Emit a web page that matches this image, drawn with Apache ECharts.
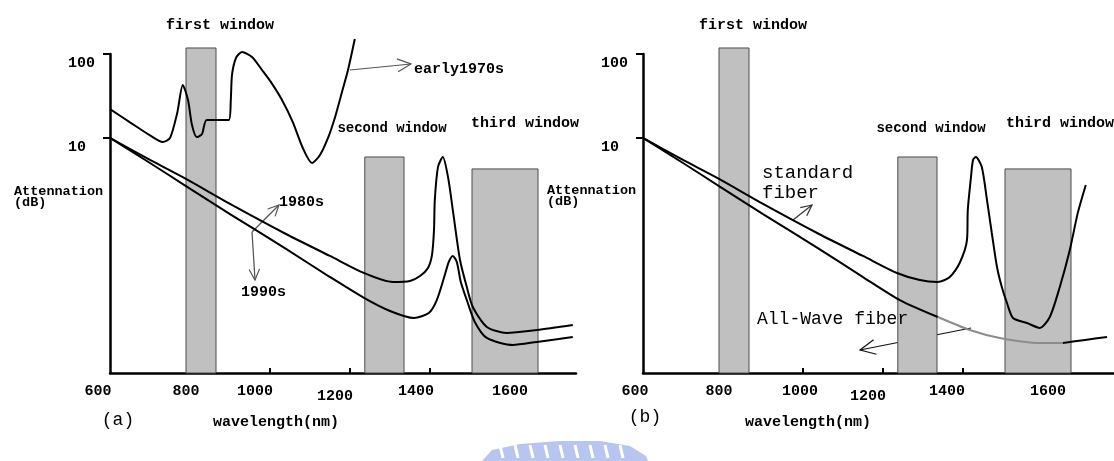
<!DOCTYPE html>
<html>
<head>
<meta charset="utf-8">
<title>fiber loss windows</title>
<script src="https://cdn.jsdelivr.net/npm/echarts@6/dist/echarts.min.js"></script>
<style>
html, body { margin: 0; padding: 0; background: #fff; }
#main { width: 1114px; height: 461px; }
</style>
</head>
<body>
<div id="main"></div>
<script>
// ---- data (wavelength nm / attenuation dB) ----
var xTicks = [600, 800, 1000, 1200, 1400, 1600];
var yTicks = [10, 100];

// transmission windows (same in both panels)
var winStart = [790, 1237, 1505];
var winEnd   = [865, 1335, 1670];
var winTop   = [118, 5.84, 4.2];

// panel (a)
var early70Nm = [600, 650, 700, 732, 750, 768, 782, 795, 805, 817, 830, 842, 897, 902, 905, 915, 930, 955, 980, 1002, 1030, 1057, 1082, 1105, 1125, 1145, 1162, 1180, 1195, 1212];
var early70Db = [21.9, 15.2, 10.6, 8.83, 9.86, 19.6, 42.6, 28.1, 14.1, 10.1, 11.0, 16.2, 16.2, 28.1, 56.1, 89.6, 105.6, 92.1, 64.3, 46.3, 28.1, 15.3, 7.48, 4.95, 6.17, 9.86, 17.1, 35.1, 64.3, 151];

var s80Nm = [600, 700, 790, 900, 1040, 1150, 1235, 1307, 1350, 1375, 1395, 1405, 1410, 1412, 1420, 1432, 1445, 1457, 1475, 1492, 1507, 1542, 1592, 1667, 1757];
var s80Db = [9.86, 5.38, 3.19, 1.60, 0.698, 0.381, 0.238, 0.186, 0.191, 0.219, 0.274, 0.392, 0.780, 1.78, 4.44, 5.84, 3.37, 1.36, 0.341, 0.162, 0.0933, 0.0538, 0.0456, 0.0495, 0.0568];

var s90Nm = [600, 700, 790, 900, 1040, 1150, 1235, 1300, 1360, 1397, 1417, 1437, 1447, 1457, 1467, 1477, 1492, 1512, 1542, 1607, 1667, 1757];
var s90Db = [9.86, 4.95, 2.62, 1.21, 0.463, 0.213, 0.120, 0.0836, 0.0689, 0.0791, 0.113, 0.225, 0.323, 0.381, 0.323, 0.186, 0.113, 0.0617, 0.0397, 0.0327, 0.0356, 0.0408];

// panel (b)
var stdNm = [600, 700, 790, 900, 1040, 1150, 1235, 1292, 1337, 1367, 1392, 1410, 1412, 1420, 1425, 1432, 1447, 1460, 1472, 1485, 1497, 1510, 1525, 1560, 1592, 1617, 1642, 1667, 1687, 1707];
var stdDb = [9.86, 5.38, 3.19, 1.60, 0.698, 0.381, 0.238, 0.196, 0.186, 0.213, 0.316, 0.592, 1.36, 3.37, 5.38, 5.84, 4.44, 1.78, 0.718, 0.281, 0.162, 0.104, 0.0689, 0.0600, 0.0523, 0.0708, 0.162, 0.450, 1.25, 2.70];

var allWaveNm = [600, 700, 790, 900, 1040, 1150, 1242, 1337, 1417, 1492, 1592, 1650, 1705, 1760];
var allWaveDb = [9.86, 4.95, 2.62, 1.21, 0.463, 0.213, 0.113, 0.0708, 0.0495, 0.0397, 0.0346, 0.0346, 0.0376, 0.0408];

var yMin = 0.0151, yMax = 100;

function pairs(xs, ys) {
    var out = [];
    for (var i = 0; i < xs.length; i++) out.push([xs[i], ys[i]]);
    return out;
}

var FONT = '"Liberation Mono", "DejaVu Sans Mono", monospace';

// hand-placed tick labels in the original: [shift x, drop y]
function tickRich(shift, drop) {
    var rich = {};
    xTicks.forEach(function (v) {
        var s = shift[v] || 0, d = drop[v] || 0;
        rich['v' + v] = {
            fontFamily: FONT, fontWeight: 'bold', fontSize: 15, color: '#000',
            padding: [d, s < 0 ? -2 * s : 0, 0, s > 0 ? 2 * s : 0]
        };
    });
    return rich;
}

function makeX(idx, max, shift) {
    return {
        gridIndex: idx, type: 'value', min: 600, max: max,
        axisLine: { onZero: false, lineStyle: { color: '#000', width: 2.5 } },
        axisTick: { show: true, inside: true, length: 5, customValues: xTicks.slice(1), lineStyle: { color: '#000', width: 2 } },
        axisLabel: {
            customValues: xTicks, margin: 11,
            formatter: function (v) { return '{v' + v + '|' + v + '}'; },
            rich: tickRich(shift, { 1200: 5 })
        },
        splitLine: { show: false }
    };
}

function makeY(idx) {
    return {
        gridIndex: idx, type: 'log', logBase: 10, min: yMin, max: yMax,
        axisLine: { show: true, lineStyle: { color: '#000', width: 2.5 } },
        axisTick: { show: true, length: 7, customValues: yTicks, lineStyle: { color: '#000', width: 2 } },
        axisLabel: {
            customValues: yTicks, align: 'left', margin: 42, verticalAlign: 'top', padding: [2, 0, 0, 0],
            fontFamily: FONT, fontWeight: 'bold', fontSize: 15, color: '#000'
        },
        splitLine: { show: false }
    };
}

function windowSeries(idx) {
    var data = [];
    for (var i = 0; i < winStart.length; i++) data.push([winStart[i], winEnd[i], winTop[i]]);
    return {
        type: 'custom', xAxisIndex: idx, yAxisIndex: idx, z: 1, clip: false,
        encode: { x: [0, 1], y: 2 },
        data: data,
        renderItem: function (params, api) {
            var p0 = api.coord([api.value(0), api.value(2)]);
            var p1 = api.coord([api.value(1), yMin]);
            return {
                type: 'rect',
                shape: { x: p0[0], y: p0[1], width: p1[0] - p0[0], height: p1[1] - p0[1] },
                style: { fill: '#c0c0c0', stroke: '#4a4a4a', lineWidth: 1 }
            };
        }
    };
}

function curve(idx, data, color) {
    return {
        type: 'line', xAxisIndex: idx, yAxisIndex: idx, z: 3, clip: false,
        data: data, showSymbol: false, smooth: 0.25, silent: true,
        lineStyle: { color: color || '#000', width: 2 }
    };
}

function arrow(x1, y1, x2, y2, len, color) {
    var a = Math.atan2(y2 - y1, x2 - x1), h = 0.45;
    var st = { stroke: color, lineWidth: 1.2, fill: null };
    return [
        { type: 'line', shape: { x1: x1, y1: y1, x2: x2, y2: y2 }, style: st },
        { type: 'polyline', shape: { points: [
            [x2 - len * Math.cos(a - h), y2 - len * Math.sin(a - h)], [x2, y2],
            [x2 - len * Math.cos(a + h), y2 - len * Math.sin(a + h)]] }, style: st }
    ];
}

function txt(s, x, y, size, bold, align, lh) {
    var f = (bold ? 'bold ' : '') + size + 'px ' + FONT;
    return {
        type: 'text', x: x, y: y, z: 10,
        style: { text: s, font: f, fill: '#000', align: align || 'left', textAlign: align || 'left',
                 verticalAlign: 'middle', textVerticalAlign: 'middle', lineHeight: lh || size }
    };
}

var graphics = [
    txt('first window', 220, 25, 15, true, 'center'),
    txt('second window', 392, 128, 14, true, 'center'),
    txt('third window', 525, 123, 15, true, 'center'),
    txt('early1970s', 414, 69, 15, true),
    txt('1980s', 279, 202, 15, true),
    txt('1990s', 241, 292, 15, true),
    txt('Attennation\n(dB)', 14, 197, 13.5, true, 'left', 11),
    txt('(a)', 118, 420, 18, false, 'center'),
    txt('wavelength(nm)', 276, 422, 15, true, 'center'),

    txt('first window', 753, 25, 15, true, 'center'),
    txt('second window', 931, 128, 14, true, 'center'),
    txt('third window', 1060, 123, 15, true, 'center'),
    txt('standard\nfiber', 762, 183, 19, false, 'left', 20),
    txt('All-Wave fiber', 757, 319, 18, false),
    txt('Attennation\n(dB)', 547, 196, 13.5, true, 'left', 11),
    txt('(b)', 645, 417, 18, false, 'center'),
    txt('wavelength(nm)', 808, 422, 15, true, 'center')
]
.concat(arrow(350, 70, 411, 64, 15, '#555'))
.concat(arrow(252, 232, 279, 205, 12, '#555'))
.concat(arrow(252, 232, 255, 280, 12, '#555'))
.concat(arrow(793, 220, 812, 205, 12, '#333'))
.concat(arrow(971, 328, 860, 350, 17, '#111'));

// faint watermark at the bottom
graphics.push({
    type: 'polygon', z: 0,
    shape: { points: [[482, 461], [492, 450], [520, 444], [560, 441], [600, 441], [630, 446], [646, 456], [648, 461]] },
    style: { fill: '#b8c5ee' }
});
[500, 515, 530, 545, 560, 575, 590, 605, 620].forEach(function (x) {
    graphics.push({ type: 'line', z: 1, shape: { x1: x, y1: 445, x2: x + 3, y2: 458 }, style: { stroke: '#fff', lineWidth: 3 } });
});

var chart = echarts.init(document.getElementById('main'));
chart.setOption({
    animation: false,
    backgroundColor: '#fff',
    grid: [
        { left: 110, top: 54, width: 466, height: 319, outerBoundsMode: 'none' },
        { left: 643, top: 54, width: 471, height: 319, outerBoundsMode: 'none' }
    ],
    xAxis: [
        makeX(0, 1765, { 600: -12, 800: -4, 1000: -15, 1200: -15, 1400: -14 }),
        makeX(1, 1777.5, { 600: -8, 800: -4, 1000: -3, 1200: -15, 1400: -16, 1600: 5 })
    ],
    yAxis: [makeY(0), makeY(1)],
    series: [
        windowSeries(0),
        curve(0, pairs(early70Nm, early70Db)),
        curve(0, pairs(s80Nm, s80Db)),
        curve(0, pairs(s90Nm, s90Db)),
        windowSeries(1),
        curve(1, pairs(stdNm, stdDb)),
        curve(1, pairs(allWaveNm, allWaveDb).slice(0, 8)),
        curve(1, pairs(allWaveNm, allWaveDb).slice(7, 12), '#8c8c8c'),
        curve(1, pairs(allWaveNm, allWaveDb).slice(11))
    ],
    graphic: graphics
});
</script>
</body>
</html>
